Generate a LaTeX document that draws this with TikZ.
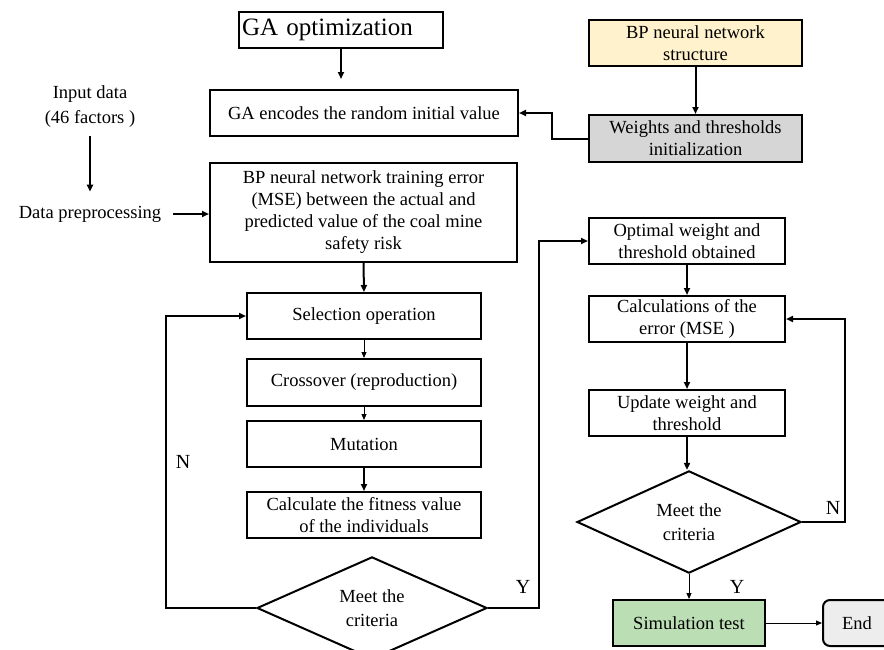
\documentclass[tikz,border=0pt]{standalone}
\usepackage{fontspec}
\setmainfont{Liberation Serif}
\usetikzlibrary{shapes.geometric,arrows.meta}
\definecolor{bpyellow}{HTML}{FFF2CC}
\definecolor{wgray}{HTML}{D6D6D6}
\definecolor{simgreen}{HTML}{BBDEB4}
\definecolor{endgray}{HTML}{EDEDED}
\begin{document}
\begin{tikzpicture}[x=1pt,y=-1pt,
  box/.style={draw=black,line width=2pt,inner sep=0pt,align=center,font=\fontsize{18.5}{22}\selectfont},
  dia/.style={draw=black,line width=2pt,diamond,inner sep=0pt,align=center,font=\fontsize{18.5}{24}\selectfont},
  txt/.style={inner sep=0pt,align=center,font=\fontsize{18.5}{25}\selectfont},
  arr/.style={line width=2pt,-{Triangle[length=7pt,width=6pt]}},
  tarr/.style={line width=1pt,-{Triangle[length=6pt,width=5pt]}},
  lbl/.style={inner sep=0pt,font=\fontsize{20}{24}\selectfont}]
\useasboundingbox (0,0) rectangle (884,649);

% left / top column
\node[box,text width=198pt,inner xsep=3pt,align=left,minimum height=36pt,font=\fontsize{25}{28}\selectfont] (ga) at (341,30) {GA optimization};
\node[box,minimum width=308pt,minimum height=46pt] (enc) at (364,113) {GA encodes the random initial value};
\node[box,fill=bpyellow,minimum width=213pt,minimum height=46pt] (bps) at (695.5,43) {BP neural network\\structure};
\node[box,fill=wgray,minimum width=213pt,minimum height=47pt] (wts) at (695.5,138.5) {Weights and thresholds\\initialization};

\node[txt] (in) at (90,107) {Input data\\(46 factors )};
\node[txt] (data) at (90,214) {Data preprocessing};

\node[box,minimum width=307pt,minimum height=99pt] (bp) at (363.5,212.5) {BP neural network training error\\(MSE) between the actual and\\predicted value of the coal mine\\safety risk};

\node[box,minimum width=234pt,minimum height=46pt] (sel) at (364,316) {Selection operation};
\node[box,minimum width=234pt,minimum height=47pt] (cro) at (364,382.5) {Crossover (reproduction)};
\node[box,minimum width=234pt,minimum height=46pt] (mut) at (364,444) {Mutation};
\node[box,minimum width=234pt,minimum height=46pt] (fit) at (364,515) {Calculate the fitness value\\of the individuals};
\node[dia,minimum width=230pt,minimum height=80pt] (d1) at (372,608) {Meet the\\criteria};

% right column
\node[box,minimum width=196pt,minimum height=46pt] (opt) at (687,241) {Optimal weight and\\threshold obtained};
\node[box,minimum width=196pt,minimum height=46pt] (calc) at (687,319) {Calculations of the\\error (MSE )};
\node[box,minimum width=196pt,minimum height=46pt] (upd) at (687,413) {Update weight and\\threshold};
\node[dia,minimum width=224pt,minimum height=97pt] (d2) at (689,522) {Meet the\\criteria};
\node[box,fill=simgreen,minimum width=152pt,minimum height=46pt] (sim) at (689,623) {Simulation test};
\node[box,fill=endgray,rounded corners=7pt,minimum width=68pt,minimum height=46pt] (end) at (857,623) {End};

% labels
\node[lbl] (n1) at (183,462) {N};
\node[lbl] (y1) at (523,587) {Y};
\node[lbl] (n2) at (833,508) {N};
\node[lbl] (y2) at (737,587) {Y};

% connectors
\draw[arr] (ga.south) -- ++(0,30);
\draw[arr] (bps.south) -- (wts.north);
\draw[arr] (wts.west) -- ++(-36,0) |- (enc.east);
\draw[arr,shorten <=8pt,shorten >=14pt] (in.south) -- (data.north);
\draw[arr,shorten <=12pt] (data.east) -- (data.east -| bp.west);
\draw[arr] (bp.south) -- (sel.north);
\draw[tarr] (sel.south) -- (cro.north);
\draw[tarr] (cro.south) -- (mut.north);
\draw[arr] (mut.south) -- (fit.north);
\draw[arr] (d1.west) -- ++(-90,0) |- (sel.west);
\draw[arr] (d1.east) -- ++(51,0) |- (opt.west);
\draw[arr] (opt.south) -- (calc.north);
\draw[arr] (calc.south) -- (upd.north);
\draw[arr] (upd.south) -- (upd.south |- d2.north);
\draw[arr] (d2.east) -- ++(43,0) |- (calc.east);
\draw[tarr] (d2.south) -- (sim.north);
\draw[tarr] (sim.east) -- (end.west);
\end{tikzpicture}
\end{document}
